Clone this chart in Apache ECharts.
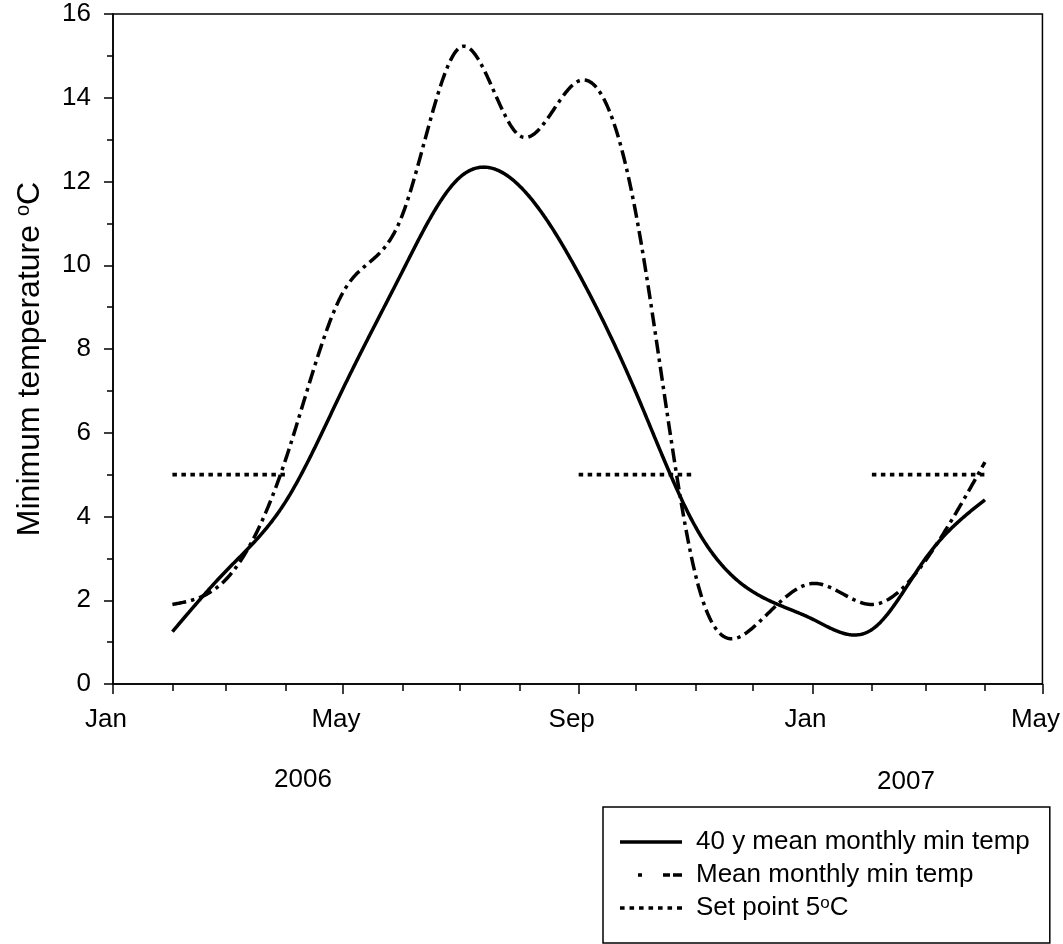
<!DOCTYPE html>
<html>
<head>
<meta charset="utf-8">
<script src="https://cdn.jsdelivr.net/npm/echarts@6/dist/echarts.min.js"></script>
<style>
html,body{margin:0;padding:0;background:#fff;}
#chart{width:1063px;height:944px;}
</style>
</head>
<body>
<div id="chart"></div>
<script>
// ---- data ----
const months = ['2006-02','2006-03','2006-04','2006-05','2006-06','2006-07','2006-08','2006-09','2006-10','2006-11','2006-12','2007-01','2007-02','2007-03','2007-04'];
const meanMin40y = [1.25, 2.7, 4.35, 7.05, 9.85, 12.1, 11.9, 9.8, 6.95, 3.75, 2.2, 1.55, 1.3, 3.0, 4.4];
const meanMin = [1.9, 2.5, 5.35, 9.35, 11.2, 15.2, 13.1, 14.4, 11.2, 2.6, 1.35, 2.4, 1.9, 2.95, 5.3];
const setPointValue = 5;
const setPointPeriods = [['2006-02','2006-04'], ['2006-09','2006-11'], ['2007-02','2007-04']];
const axisStart = '2006-01';
const axisEnd = '2007-05';
const tickMonths = ['2006-01','2006-02','2006-03','2006-04','2006-05','2006-06','2006-07','2006-08','2006-09','2006-10','2006-11','2006-12','2007-01','2007-02','2007-03','2007-04','2007-05'];
const labelMonths = ['2006-01','2006-05','2006-09','2007-01','2007-05'];
const labelTexts = ['Jan','May','Sep','Jan','May'];
const yearLabels = ['2006','2007'];
const rightTickValues = [1,3,5,7,9,11,13,15];
const seriesNames = ['40 y mean monthly min temp','Mean monthly min temp','Set point 5°C'];

// ---- helpers ----
function day(m){
  const p = m.split('-');
  const s = axisStart.split('-');
  return (Date.UTC(+p[0], +p[1]-1, 1) - Date.UTC(+s[0], +s[1]-1, 1)) / 86400000;
}
// natural cubic spline through the data points (used only for drawing the curve)
function naturalSpline(xs, ys){
  const n = xs.length, h = [], M = new Array(n).fill(0);
  for (let i = 0; i < n-1; i++) h.push(xs[i+1]-xs[i]);
  const a = [], b = [], c = [], d = [];
  for (let i = 1; i < n-1; i++){
    a.push(h[i-1]); b.push(2*(h[i-1]+h[i])); c.push(h[i]);
    d.push(6*((ys[i+1]-ys[i])/h[i] - (ys[i]-ys[i-1])/h[i-1]));
  }
  const m = b.length;
  for (let i = 1; i < m; i++){
    const w = a[i]/b[i-1];
    b[i] -= w*c[i-1]; d[i] -= w*d[i-1];
  }
  const sol = new Array(m);
  sol[m-1] = d[m-1]/b[m-1];
  for (let i = m-2; i >= 0; i--) sol[i] = (d[i]-c[i]*sol[i+1])/b[i];
  for (let i = 0; i < m; i++) M[i+1] = sol[i];
  return function(x){
    let i = 0;
    while (i < n-2 && x > xs[i+1]) i++;
    const hi = h[i], A = xs[i+1]-x, B = x-xs[i];
    return M[i]*A*A*A/(6*hi) + M[i+1]*B*B*B/(6*hi) + (ys[i]/hi - M[i]*hi/6)*A + (ys[i+1]/hi - M[i+1]*hi/6)*B;
  };
}
const FONT = '"Liberation Sans", Arial, Helvetica, sans-serif';
const labelMap = {};
labelMonths.forEach((m,i)=>{ labelMap[day(m)] = labelTexts[i]; });

function splineSeries(name, values, lineWidth, dash){
  const xs = months.map(day);
  const f = naturalSpline(xs, values);
  const n = xs.length;
  return {
    name: name, type: 'custom', silent: true, clip: true,
    itemStyle: {color: '#000'},
    data: xs.map((x,i)=>[x, values[i]]),
    encode: {x: 0, y: 1},
    renderItem: function(params, api){
      if (params.dataIndex !== 0) return null;
      const pts = [];
      for (let x = xs[0]; x < xs[n-1]; x += 0.5) pts.push(api.coord([x, f(x)]));
      pts.push(api.coord([xs[n-1], values[n-1]]));
      return {
        type: 'polyline', shape: {points: pts},
        style: {stroke: '#000', fill: 'none', lineWidth: lineWidth, lineDash: dash, lineCap: 'butt', lineJoin: 'round'}
      };
    }
  };
}

const series = [
  splineSeries(seriesNames[0], meanMin40y, 3.5, null),
  splineSeries(seriesNames[1], meanMin, 3.5, [14,5,3.5,5])
];
setPointPeriods.forEach(p=>{
  series.push({
    name: seriesNames[2], type: 'line', symbol: 'none', silent: true,
    data: [[day(p[0]), setPointValue], [day(p[1]), setPointValue]],
    lineStyle: {color:'#000', width:3.6, type:[4.5,4.5], cap:'butt'}, itemStyle:{color:'#000'}
  });
});

// legend sample icons (62 px wide line samples)
const iconSolid = 'path://M0,0h62v3.4h-62z';
const iconDashDot = 'path://M0,0M18,0h4v3.4h-4zM43,0h7v3.4h-7zM53,0h9v3.4h-9zM62,3.4';
const iconDotted = 'path://M0,0h4.6v3.4h-4.6zM9.5,0h4.6v3.4h-4.6zM19,0h4.6v3.4h-4.6zM28.5,0h4.6v3.4h-4.6zM38,0h4.6v3.4h-4.6zM47.5,0h4.6v3.4h-4.6zM57,0h5v3.4h-5z';

const chart = echarts.init(document.getElementById('chart'), null, {renderer:'canvas'});
chart.setOption({
  animation: false,
  backgroundColor: '#fff',
  textStyle: {fontFamily: FONT, color:'#000'},
  grid: {left:113, right:20, top:14, bottom:260, show:true, borderColor:'#000', borderWidth:1.5, backgroundColor:'transparent'},
  xAxis: [
    {
      type:'value', min: day(axisStart), max: day(axisEnd), position:'bottom',
      axisLine:{show:true, lineStyle:{color:'#000', width:1.5}},
      axisTick:{show:true, customValues: labelMonths.map(day), length:10, lineStyle:{color:'#000', width:1.5}},
      axisLabel:{show:true, customValues: labelMonths.map(day), formatter: v => labelMap[v] || '', fontSize:26, color:'#000', fontFamily:FONT, margin:23, padding:[0,14,0,0]},
      splitLine:{show:false}
    },
    {
      type:'value', min: day(axisStart), max: day(axisEnd), position:'bottom',
      axisLine:{show:false},
      axisTick:{show:true, customValues: tickMonths.map(day), length:7, lineStyle:{color:'#000', width:1.5}},
      axisLabel:{show:false},
      splitLine:{show:false}
    }
  ],
  yAxis: [
    {
      type:'value', min:0, max:16, interval:2, position:'left',
      name: 'Minimum temperature {sup|o}C', nameLocation:'middle', nameGap:66, nameRotate:90,
      nameTextStyle:{fontSize:32, color:'#000', fontFamily:FONT, padding:[0,20,0,0],
        rich:{sup:{fontSize:20, verticalAlign:'bottom', padding:[0,0,14,0], fontFamily:FONT, color:'#000'}}},
      axisLine:{show:true, lineStyle:{color:'#000', width:1.5}},
      axisTick:{show:true, length:9, lineStyle:{color:'#000', width:1.5}},
      minorTick:{show:true, splitNumber:2, length:5, lineStyle:{color:'#000', width:1.5}},
      axisLabel:{fontSize:26, color:'#000', fontFamily:FONT, margin:22},
      splitLine:{show:false}, minorSplitLine:{show:false}
    },
    {
      type:'value', min:0, max:16, position:'right',
      axisLine:{show:false},
      axisTick:{show:true, inside:true, customValues: rightTickValues, length:6, lineStyle:{color:'#000', width:1.5}},
      axisLabel:{show:false},
      splitLine:{show:false}
    }
  ],
  legend: {
    show:true, orient:'vertical', left:603, top:807,
    padding:[22,20,22,17], itemGap:7, itemWidth:62, itemHeight:20,
    borderColor:'#000', borderWidth:1.5, backgroundColor:'#fff',
    selectedMode:false, symbolKeepAspect:true,
    formatter: n => n.replace('°','{sup|o}'),
    textStyle:{fontSize:26, color:'#000', fontFamily:FONT, padding:[0,0,0,9],
      rich:{sup:{fontSize:17, lineHeight:10, verticalAlign:'top', color:'#000', fontFamily:FONT}}},
    data:[
      {name: seriesNames[0], icon: iconSolid},
      {name: seriesNames[1], icon: iconDashDot},
      {name: seriesNames[2], icon: iconDotted}
    ]
  },
  graphic: [
    {type:'text', x:303, y:780, style:{text:yearLabels[0], fontSize:26, fontFamily:FONT, fill:'#000', align:'center', verticalAlign:'middle'}},
    {type:'text', x:906, y:782, style:{text:yearLabels[1], fontSize:26, fontFamily:FONT, fill:'#000', align:'center', verticalAlign:'middle'}}
  ],
  series: series
});
</script>
</body>
</html>
